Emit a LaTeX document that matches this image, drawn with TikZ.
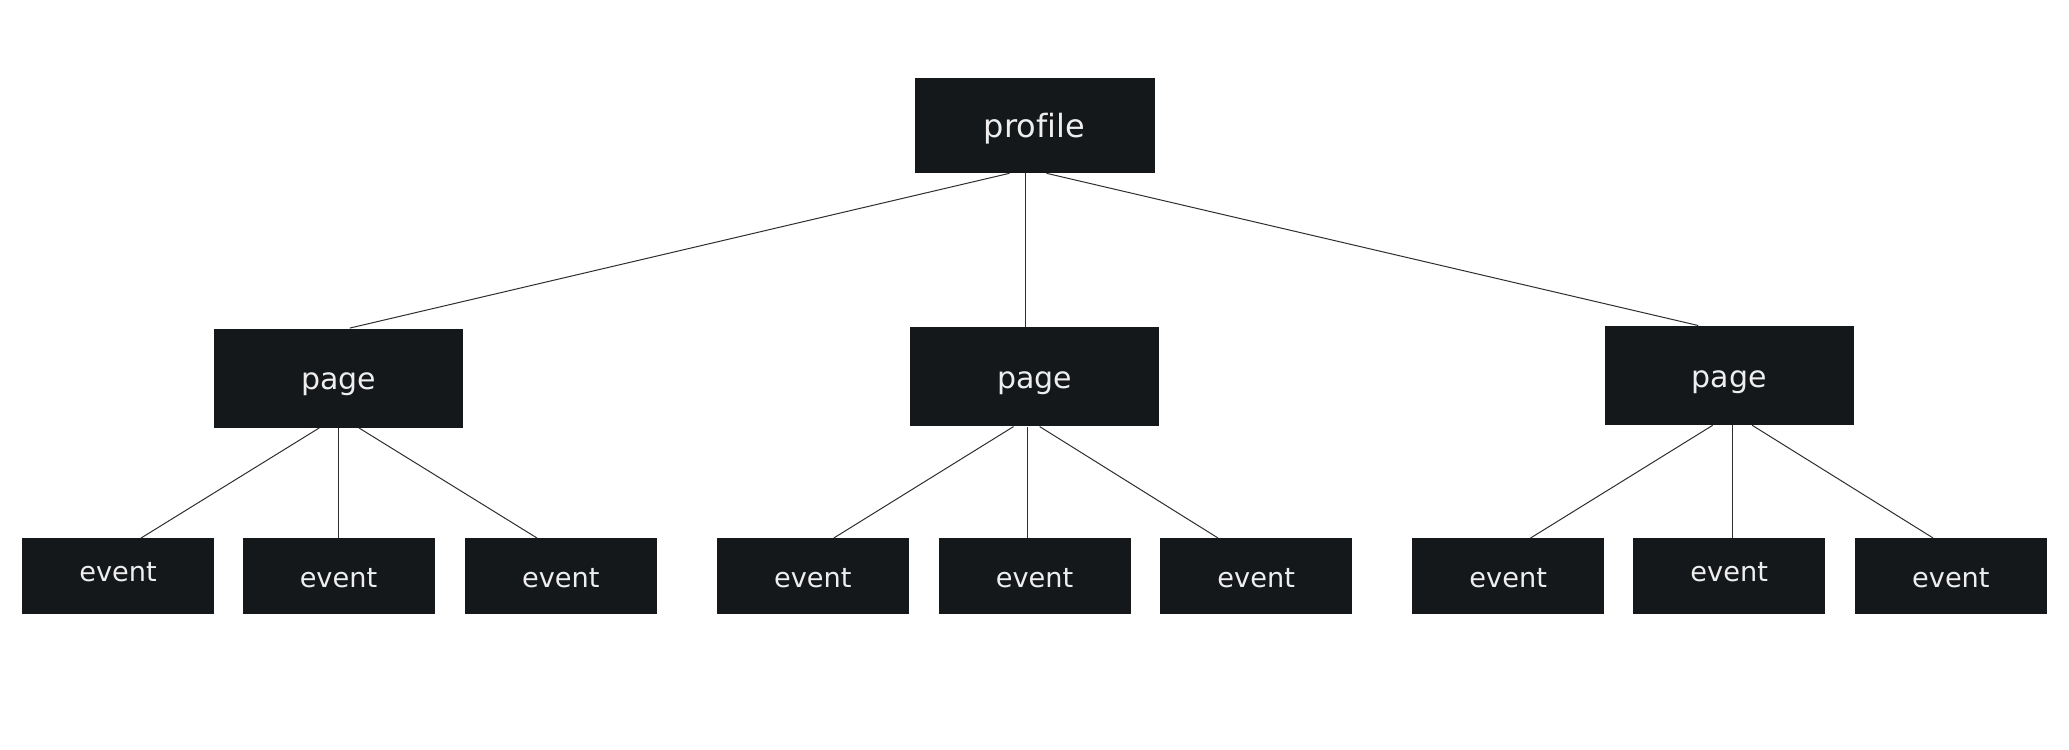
\documentclass[tikz,border=0pt]{standalone}
\usepackage{fontspec}
\setmainfont{DejaVu Sans}[Ligatures=NoCommon]
\definecolor{boxfill}{HTML}{15181B}
\definecolor{boxtext}{HTML}{EEEEEE}
\definecolor{wire}{HTML}{2E2E2E}

\begin{document}
\begin{tikzpicture}[
        x=0.5pt, y=-0.5pt,
        box/.style={fill=boxfill, text=boxtext, inner sep=0pt},
        prof/.style={box, minimum width=120pt, minimum height=47.5pt, text height=14.2pt, text depth=1.8pt, font=\fontsize{16}{16}\selectfont},
        pg/.style={box, minimum width=124.6pt, minimum height=49.5pt, text height=13.4pt, text depth=1.6pt, font=\fontsize{15}{15}\selectfont},
        ev/.style={box, minimum width=96pt, minimum height=37.6pt, text height=12.3pt, text depth=1.3pt, font=\fontsize{13.6}{13.6}\selectfont},
        up/.style={text depth=6.5pt},
        wire/.style={draw=wire, line width=0.5pt}
    ]
    \useasboundingbox (0,0) rectangle (2069,750);
    % root
    \node[prof] (P) at (1034.5,125.4) {profile};
    % pages
    \node[pg] (A) at (338.5,378) {page};
    \node[pg] (B) at (1034.5,376.7) {page};
    \node[pg] (C) at (1729.2,375.4) {page};
    % events
    \node[ev,up] (A1) at (118.1,576) {event};
    \node[ev] (A2) at (338.5,576) {event};
    \node[ev] (A3) at (560.8,576) {event};
    \node[ev] (B1) at (812.8,576) {event};
    \node[ev] (B2) at (1034.5,576) {event};
    \node[ev] (B3) at (1256.2,576) {event};
    \node[ev] (C1) at (1508.2,576) {event};
    \node[ev,up] (C2) at (1729.2,576) {event};
    \node[ev] (C3) at (1950.9,576) {event};
    % profile -> pages
    \draw[wire] ([xshift=-12.5pt]P.south) -- ([xshift=5.6pt]A.north);
    \draw[wire] ([xshift=-4.6pt]P.south) -- ([xshift=-4.6pt]B.north);
    \draw[wire] ([xshift=6pt]P.south) -- ([xshift=-15.5pt]C.north);
    % pages -> events
    \draw[wire] ([xshift=-9.6pt]A.south) -- ([xshift=11.5pt]A1.north);
    \draw[wire] (A.south) -- (A2.north);
    \draw[wire] ([xshift=10.2pt]A.south) -- ([xshift=-11.9pt]A3.north);
    \draw[wire] ([xshift=-10.5pt]B.south) -- ([xshift=10.5pt]B1.north);
    \draw[wire] ([xshift=-3.3pt]B.south) -- ([xshift=-3.3pt]B2.north);
    \draw[wire] ([xshift=2.6pt]B.south) -- ([xshift=-19.1pt]B3.north);
    \draw[wire] ([xshift=-8.25pt]C.south) -- ([xshift=11.2pt]C1.north);
    \draw[wire] ([xshift=1.65pt]C.south) -- ([xshift=1.65pt]C2.north);
    \draw[wire] ([xshift=11.5pt]C.south) -- ([xshift=-8.9pt]C3.north);
\end{tikzpicture}
\end{document}
